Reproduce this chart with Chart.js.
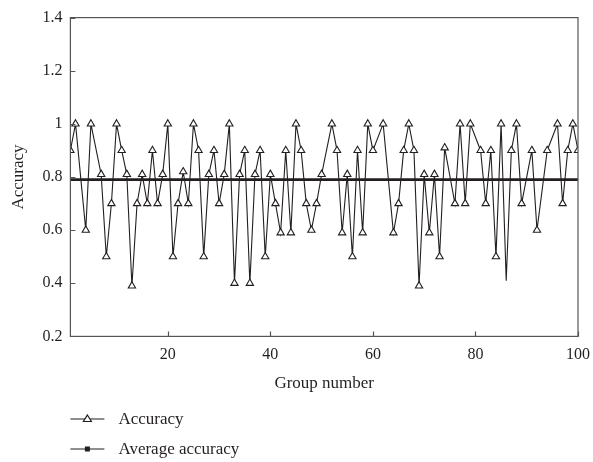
<!DOCTYPE html>
<html>
<head>
<meta charset="utf-8">
<script src="https://cdn.jsdelivr.net/npm/chart.js@4.4.1/dist/chart.umd.min.js"></script>
<style>
  html, body { margin: 0; padding: 0; background: #fff; }
  #wrap { width: 593px; height: 462px; }
</style>
</head>
<body>
<div id="wrap"><canvas id="accuracyChart"></canvas></div>
<script>
// Group numbers and accuracy
const groupNumbers = [1, 2, 4, 5, 7, 8, 9, 10, 11, 12,
    13, 14, 15, 16, 17, 18, 19, 20, 21, 22, 23, 24, 25, 26, 27, 28, 29, 30, 31, 32,
    33, 34, 35, 36, 37, 38, 39, 40, 41, 42, 43, 44, 45, 46, 47, 48, 49, 50,
    52, 53, 54, 55, 56, 57, 58, 59, 60, 62,
    64, 65, 66, 67, 68, 69, 70, 71, 72, 73, 74, 76, 77, 78, 79,
    81, 82, 83, 84, 85, 86, 87, 88, 89, 91, 92, 94, 96, 97, 98, 99, 100];
const accuracy = [0.9, 1.0, 0.6, 1.0, 0.81, 0.5, 0.7, 1.0, 0.9, 0.81,
    0.39, 0.7, 0.81, 0.7, 0.9, 0.7, 0.81, 1.0, 0.5, 0.7, 0.82, 0.7, 1.0, 0.9, 0.5, 0.81, 0.9, 0.7, 0.81, 1.0,
    0.4, 0.81, 0.9, 0.4, 0.81, 0.9, 0.5, 0.81, 0.7, 0.59, 0.9, 0.59, 1.0, 0.9, 0.7, 0.6, 0.7, 0.81,
    1.0, 0.9, 0.59, 0.81, 0.5, 0.9, 0.59, 1.0, 0.9, 1.0,
    0.59, 0.7, 0.9, 1.0, 0.9, 0.39, 0.81, 0.59, 0.81, 0.5, 0.91, 0.7, 1.0, 0.7, 1.0,
    0.9, 0.7, 0.9, 0.5, 1.0, 0.41, 0.9, 1.0, 0.7, 0.9, 0.6, 0.9, 1.0, 0.7, 0.9, 1.0, 0.9];
// the dip near group 86 has no marker in the figure
const markerlessGroups = [86];

const averageGroups = [1, 100];
const averageAccuracy = [0.79, 0.79];

const xTicks = [20, 40, 60, 80, 100];
const yTicks = [0.2, 0.4, 0.6, 0.8, 1, 1.2, 1.4];
const yTickLabels = ['0.2', '0.4', '0.6', '0.8', '1', '1.2', '1.4'];

const ink = '#231f20';
const frameColor = '#555555';
const serif = "'Liberation Serif', 'DejaVu Serif', serif";

// frame round the plot and short ticks pointing inward
const framePlugin = {
    id: 'frameTicks',
    afterDraw(chart) {
        const { ctx, chartArea: a, scales } = chart;
        ctx.save();
        ctx.strokeStyle = frameColor;
        ctx.lineWidth = 1.2;
        ctx.strokeRect(a.left, a.top, a.right - a.left, a.bottom - a.top);
        ctx.beginPath();
        xTicks.forEach(v => {
            const px = Math.round(scales.x.getPixelForValue(v)) + 0.5;
            ctx.moveTo(px, a.bottom);
            ctx.lineTo(px, a.bottom - 5);
        });
        yTicks.forEach(v => {
            const py = Math.round(scales.y.getPixelForValue(v)) + 0.5;
            ctx.moveTo(a.left, py);
            ctx.lineTo(a.left + 5, py);
        });
        ctx.stroke();
        ctx.restore();
    }
};

// legend stacked under the x axis title
const legendPlugin = {
    id: 'stackedLegend',
    afterDraw(chart) {
        const { ctx, chartArea: a } = chart;
        const sets = chart.data.datasets;
        const x0 = a.left;
        const rows = [chart.height - 43, chart.height - 13];
        ctx.save();
        ctx.font = '17px ' + serif;
        ctx.textBaseline = 'middle';
        sets.forEach((ds, i) => {
            const y = rows[i];
            ctx.strokeStyle = ink;
            ctx.lineWidth = 1.2;
            ctx.beginPath();
            ctx.moveTo(x0, y);
            ctx.lineTo(x0 + 34, y);
            ctx.stroke();
            const cx = x0 + 17;
            if (i === 0) {
                ctx.fillStyle = '#fff';
                ctx.beginPath();
                ctx.moveTo(cx, y - 4);
                ctx.lineTo(cx + 4, y + 2.5);
                ctx.lineTo(cx - 4, y + 2.5);
                ctx.closePath();
                ctx.fill();
                ctx.stroke();
            } else {
                ctx.fillStyle = ink;
                ctx.fillRect(cx - 2.5, y - 2.5, 5, 5);
            }
            ctx.fillStyle = ink;
            ctx.fillText(ds.label, x0 + 48, y + 1);
        });
        ctx.restore();
    }
};

const ctx = document.getElementById('accuracyChart').getContext('2d');
new Chart(ctx, {
    type: 'line',
    data: {
        datasets: [
            {
                label: 'Accuracy',
                data: groupNumbers.map((g, i) => ({ x: g, y: accuracy[i] })),
                borderColor: ink,
                borderWidth: 1.1,
                backgroundColor: '#ffffff',
                pointStyle: 'triangle',
                pointRadius: c => (c.raw && markerlessGroups.includes(c.raw.x)) ? 0 : 4.2,
                pointBorderWidth: 1.1,
                pointBorderColor: ink,
                pointBackgroundColor: '#ffffff',
                tension: 0,
                order: 2
            },
            {
                label: 'Average accuracy',
                data: averageGroups.map((g, i) => ({ x: g, y: averageAccuracy[i] })),
                borderColor: ink,
                borderWidth: 2.6,
                pointRadius: 0,
                tension: 0,
                order: 1
            }
        ]
    },
    options: {
        responsive: true,
        maintainAspectRatio: false,
        animation: false,
        layout: {
            padding: { left: 8, right: 15, top: 8, bottom: 68 }
        },
        plugins: {
            legend: { display: false },
            tooltip: { enabled: false }
        },
        scales: {
            x: {
                type: 'linear',
                min: 1,
                max: 100,
                afterBuildTicks: scale => {
                    scale.ticks = xTicks.map(v => ({ value: v }));
                },
                // let the "100" label hang past the frame as in the figure
                afterFit: scale => {
                    scale.paddingRight = 0;
                },
                grid: { display: false, drawTicks: false },
                border: { display: false },
                ticks: {
                    color: ink,
                    padding: 9,
                    maxRotation: 0,
                    font: { family: serif, size: 16 }
                },
                title: {
                    display: true,
                    text: 'Group number',
                    color: ink,
                    padding: { top: 0, bottom: 0 },
                    font: { family: serif, size: 17 }
                }
            },
            y: {
                min: 0.2,
                max: 1.4,
                afterBuildTicks: scale => {
                    scale.ticks = yTicks.map(v => ({ value: v }));
                },
                grid: { display: false, drawTicks: false },
                border: { display: false },
                ticks: {
                    color: ink,
                    padding: 8,
                    font: { family: serif, size: 16 },
                    callback: (value, index) => yTickLabels[index]
                },
                title: {
                    display: true,
                    text: 'Accuracy',
                    color: ink,
                    padding: { top: 0, bottom: 6 },
                    font: { family: serif, size: 17 }
                }
            }
        }
    },
    plugins: [framePlugin, legendPlugin]
});
</script>
</body>
</html>
